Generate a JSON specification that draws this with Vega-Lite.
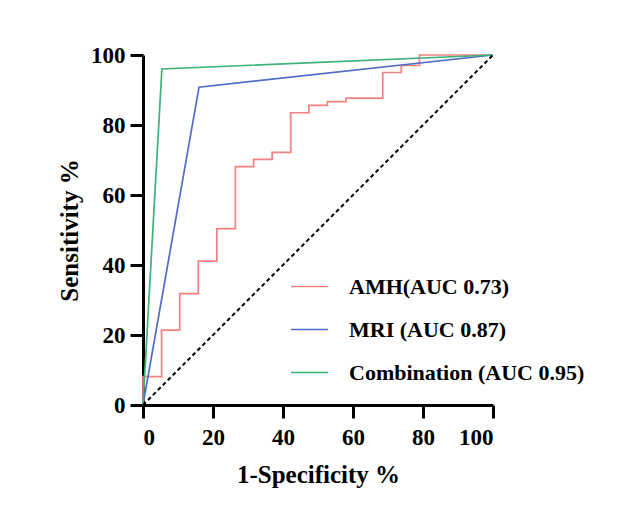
{
  "$schema": "https://vega.github.io/schema/vega-lite/v6.json",
  "width": 350,
  "height": 350,
  "autosize": {"type": "none"},
  "padding": {"left": 143, "top": 55, "right": 133, "bottom": 116},
  "background": "white",
  "config": {
    "view": {"stroke": null},
    "font": "Liberation Serif",
    "axis": {
      "domainColor": "black",
      "domainWidth": 3,
      "grid": false,
      "labelFont": "Liberation Serif",
      "labelFontWeight": "bold",
      "labelFontSize": 23,
      "labelColor": "black",
      "titleFont": "Liberation Serif",
      "titleFontWeight": "bold",
      "titleFontSize": 25,
      "titleColor": "black"
    }
  },
  "datasets": {
    "roc": [
      {"series": "AMH(AUC 0.73)", "i": 0, "fpr": 0, "sens": 0},
      {"series": "AMH(AUC 0.73)", "i": 1, "fpr": 0, "sens": 8.1},
      {"series": "AMH(AUC 0.73)", "i": 2, "fpr": 5.3, "sens": 8.1},
      {"series": "AMH(AUC 0.73)", "i": 3, "fpr": 5.3, "sens": 21.4},
      {"series": "AMH(AUC 0.73)", "i": 4, "fpr": 10.5, "sens": 21.4},
      {"series": "AMH(AUC 0.73)", "i": 5, "fpr": 10.5, "sens": 31.8},
      {"series": "AMH(AUC 0.73)", "i": 6, "fpr": 15.8, "sens": 31.8},
      {"series": "AMH(AUC 0.73)", "i": 7, "fpr": 15.8, "sens": 41.1},
      {"series": "AMH(AUC 0.73)", "i": 8, "fpr": 21.1, "sens": 41.1},
      {"series": "AMH(AUC 0.73)", "i": 9, "fpr": 21.1, "sens": 50.4},
      {"series": "AMH(AUC 0.73)", "i": 10, "fpr": 26.4, "sens": 50.4},
      {"series": "AMH(AUC 0.73)", "i": 11, "fpr": 26.4, "sens": 68.1},
      {"series": "AMH(AUC 0.73)", "i": 12, "fpr": 31.6, "sens": 68.1},
      {"series": "AMH(AUC 0.73)", "i": 13, "fpr": 31.6, "sens": 70.2},
      {"series": "AMH(AUC 0.73)", "i": 14, "fpr": 36.9, "sens": 70.2},
      {"series": "AMH(AUC 0.73)", "i": 15, "fpr": 36.9, "sens": 72.2},
      {"series": "AMH(AUC 0.73)", "i": 16, "fpr": 42.2, "sens": 72.2},
      {"series": "AMH(AUC 0.73)", "i": 17, "fpr": 42.2, "sens": 83.5},
      {"series": "AMH(AUC 0.73)", "i": 18, "fpr": 47.4, "sens": 83.5},
      {"series": "AMH(AUC 0.73)", "i": 19, "fpr": 47.4, "sens": 85.6},
      {"series": "AMH(AUC 0.73)", "i": 20, "fpr": 52.7, "sens": 85.6},
      {"series": "AMH(AUC 0.73)", "i": 21, "fpr": 52.7, "sens": 86.7},
      {"series": "AMH(AUC 0.73)", "i": 22, "fpr": 58.0, "sens": 86.7},
      {"series": "AMH(AUC 0.73)", "i": 23, "fpr": 58.0, "sens": 87.7},
      {"series": "AMH(AUC 0.73)", "i": 24, "fpr": 68.5, "sens": 87.7},
      {"series": "AMH(AUC 0.73)", "i": 25, "fpr": 68.5, "sens": 95.0},
      {"series": "AMH(AUC 0.73)", "i": 26, "fpr": 73.8, "sens": 95.0},
      {"series": "AMH(AUC 0.73)", "i": 27, "fpr": 73.8, "sens": 97.0},
      {"series": "AMH(AUC 0.73)", "i": 28, "fpr": 79.0, "sens": 97.0},
      {"series": "AMH(AUC 0.73)", "i": 29, "fpr": 79.0, "sens": 100},
      {"series": "AMH(AUC 0.73)", "i": 30, "fpr": 100, "sens": 100},
      {"series": "MRI (AUC 0.87)", "i": 0, "fpr": 0, "sens": 0},
      {"series": "MRI (AUC 0.87)", "i": 1, "fpr": 16.0, "sens": 90.8},
      {"series": "MRI (AUC 0.87)", "i": 2, "fpr": 100, "sens": 100},
      {"series": "Combination (AUC 0.95)", "i": 0, "fpr": 0, "sens": 0},
      {"series": "Combination (AUC 0.95)", "i": 1, "fpr": 5.4, "sens": 96.0},
      {"series": "Combination (AUC 0.95)", "i": 2, "fpr": 100, "sens": 100}
    ],
    "diag": [
      {"fpr": 0, "sens": 0},
      {"fpr": 100, "sens": 100}
    ]
  },
  "layer": [
    {
      "data": {"name": "roc"},
      "mark": {"type": "line", "strokeWidth": 1.7},
      "encoding": {
        "x": {
          "field": "fpr", "type": "quantitative",
          "scale": {"domain": [0, 100], "nice": false},
          "axis": {"tickCount": 5, "ticks": true, "tickColor": "#000000", "tickWidth": 3, "tickSize": 13, "title": "1-Specificity %", "labelPadding": 8, "titlePadding": 13}
        },
        "y": {
          "field": "sens", "type": "quantitative",
          "scale": {"domain": [0, 100], "nice": false},
          "axis": {"tickCount": 5, "ticks": true, "tickColor": "#000000", "tickWidth": 3, "tickSize": 13, "title": "Sensitivity %", "labelPadding": 5, "titlePadding": 8}
        },
        "order": {"field": "i", "type": "quantitative"},
        "color": {
          "field": "series", "type": "nominal",
          "scale": {
            "domain": ["AMH(AUC 0.73)", "MRI (AUC 0.87)", "Combination (AUC 0.95)"],
            "range": ["#F4807F", "#4F6DC6", "#3CB179"]
          },
          "legend": {
            "title": null,
            "orient": "none",
            "legendX": 147,
            "legendY": 212,
            "symbolType": "stroke",
            "symbolSize": 1369,
            "symbolStrokeWidth": 1.7,
            "labelFont": "Liberation Serif",
            "labelFontWeight": "bold",
            "labelFontSize": 22,
            "labelColor": "black",
            "labelOffset": 20,
            "rowPadding": 12,
            "labelLimit": 400
          }
        }
      }
    },
    {
      "data": {"name": "diag"},
      "mark": {"type": "line", "color": "black", "strokeWidth": 2, "strokeDash": [4, 3]},
      "encoding": {
        "x": {"field": "fpr", "type": "quantitative"},
        "y": {"field": "sens", "type": "quantitative"}
      }
    }
  ]
}
